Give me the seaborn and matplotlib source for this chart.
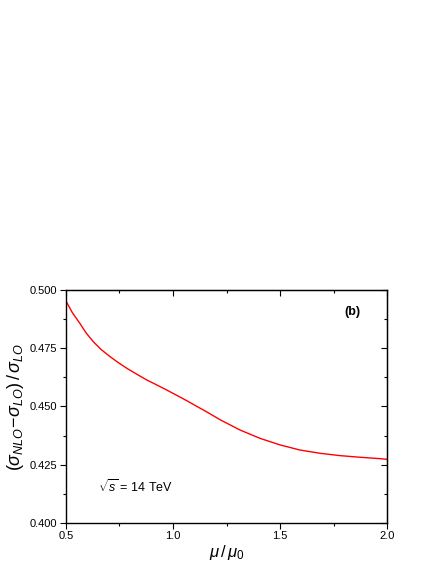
import seaborn as sns
import pandas as pd
import numpy as np
import matplotlib.pyplot as plt
from matplotlib.ticker import MultipleLocator

mu_ratio = [0.500, 0.530, 0.565, 0.595, 0.628, 0.665, 0.706, 0.745, 0.784, 0.830, 0.877,
            0.925, 0.970, 1.015, 1.064, 1.110, 1.157, 1.220, 1.313, 1.407, 1.500,
            1.593, 1.687, 1.780, 1.874, 1.967, 2.000]
k_minus_one = [0.4953, 0.4903, 0.4857, 0.4815, 0.4778, 0.4744, 0.4714, 0.4688, 0.4664,
               0.4639, 0.4614, 0.4592, 0.4571, 0.4549, 0.4525, 0.4501, 0.4477, 0.4443,
               0.4399, 0.4363, 0.4335, 0.4313, 0.4299, 0.4289, 0.4282, 0.4276, 0.4273]

sns.set_style("ticks")
plt.rcParams['font.family'] = ['Liberation Sans', 'DejaVu Sans']
plt.rcParams['mathtext.fontset'] = 'custom'
plt.rcParams['mathtext.rm'] = 'Liberation Sans'
plt.rcParams['mathtext.it'] = 'Liberation Sans:italic'
plt.rcParams['text.color'] = 'black'
plt.rcParams['axes.labelcolor'] = 'black'
plt.rcParams['xtick.color'] = 'black'
plt.rcParams['ytick.color'] = 'black'
plt.rcParams['axes.edgecolor'] = 'black'

df = pd.DataFrame({'mu': mu_ratio, 'ratio': k_minus_one})

fig = plt.figure(figsize=(4.36, 5.64), dpi=100)
ax = fig.add_axes([0.151, 0.0727, 0.737, 0.4133])
sns.lineplot(data=df, x='mu', y='ratio', color='red', linewidth=1.0, ax=ax)

ax.set_xlim(0.5, 2.0)
ax.set_ylim(0.400, 0.500)
ax.set_xticks([0.5, 1.0, 1.5, 2.0], ['0.5', '1.0', '1.5', '2.0'])
ax.set_yticks([0.400, 0.425, 0.450, 0.475, 0.500], ['0.400', '0.425', '0.450', '0.475', '0.500'])
ax.xaxis.set_minor_locator(MultipleLocator(0.25))
ax.yaxis.set_minor_locator(MultipleLocator(0.0125))
ax.tick_params(which='major', direction='out', length=4, width=0.8, labelsize=8, pad=2)
ax.tick_params(which='minor', direction='out', length=2.5, width=0.8)

# inward ticks on the top and right edges
sec_x = ax.secondary_xaxis('top')
sec_x.set_xticks([0.5, 1.0, 1.5, 2.0], [])
sec_x.xaxis.set_minor_locator(MultipleLocator(0.25))
sec_x.tick_params(which='major', direction='in', length=4, width=0.8)
sec_x.tick_params(which='minor', direction='in', length=2.5, width=0.8)
sec_y = ax.secondary_yaxis('right')
sec_y.set_yticks([0.400, 0.425, 0.450, 0.475, 0.500], [])
sec_y.yaxis.set_minor_locator(MultipleLocator(0.0125))
sec_y.tick_params(which='major', direction='in', length=4, width=0.8)
sec_y.tick_params(which='minor', direction='in', length=2.5, width=0.8)
sns.despine(ax=ax, top=False, right=False)
for s in ax.spines.values():
    s.set_linewidth(1.0)

ax.set_xlabel(r'$\mu\,/\,\mu_0$', fontsize=12, labelpad=1)
ax.set_ylabel(r'$(\sigma_{NLO}\!-\!\sigma_{LO})\,/\,\sigma_{LO}$', fontsize=13, labelpad=3)
ax.text(1.84, 0.4905, '(b)', fontsize=9, fontweight='bold', ha='center', va='center')
ax.text(0.65, 0.4155, r'$\sqrt{s}$ = 14 TeV', fontsize=9, ha='left', va='center')

fig.savefig('out.png', dpi=100)
